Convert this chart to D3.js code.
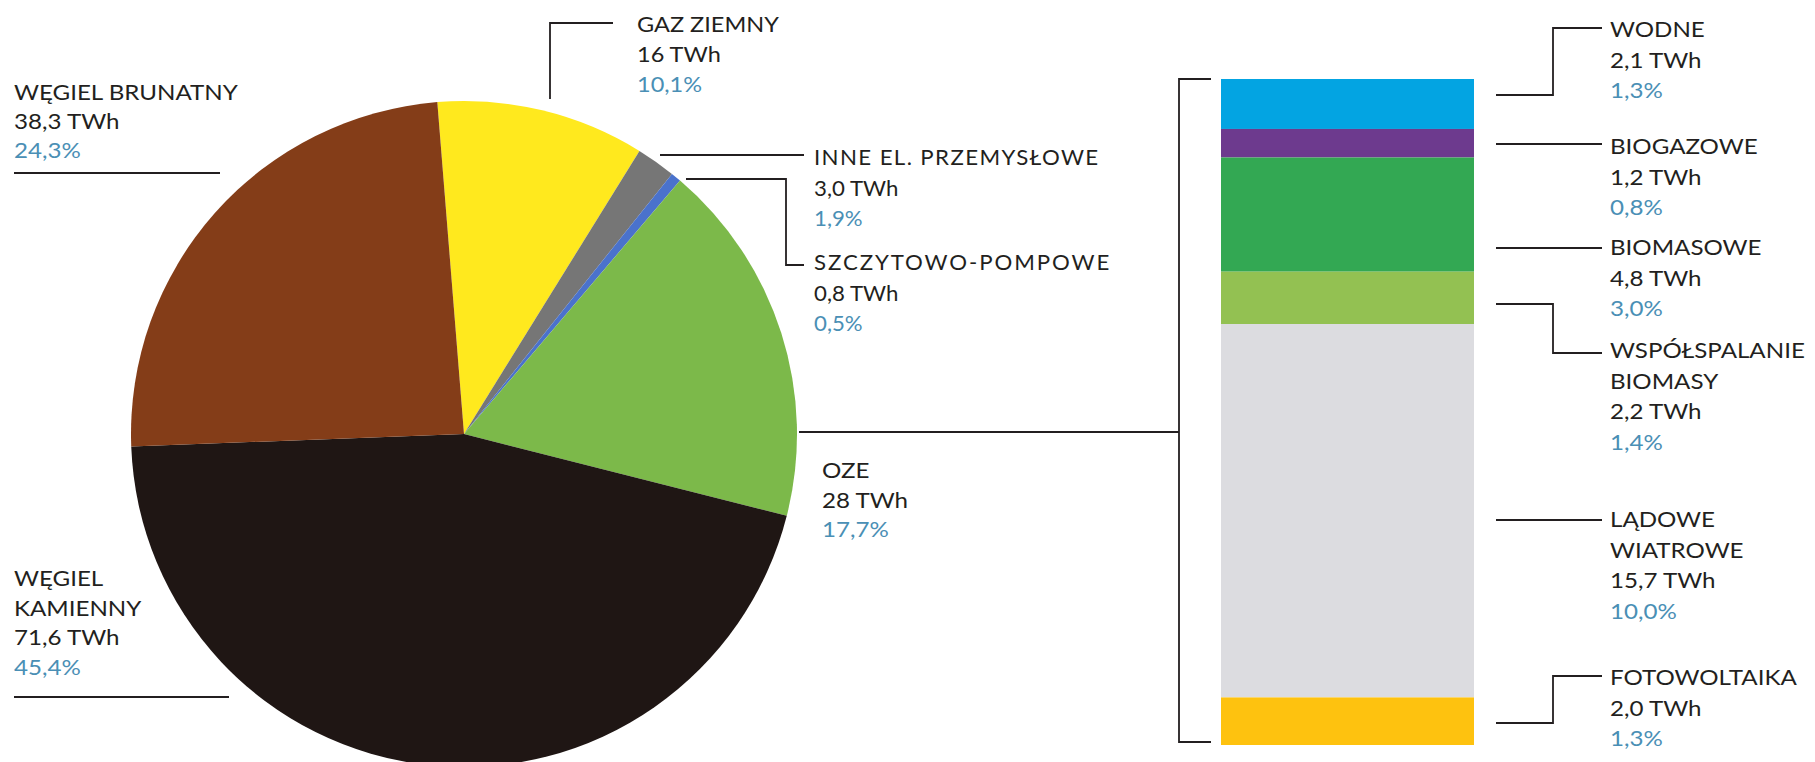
<!DOCTYPE html>
<html><head><meta charset="utf-8">
<script src="https://cdn.jsdelivr.net/npm/d3@7"></script>
<style>
html,body{margin:0;padding:0;background:#fff;}
svg{display:block;}
text{font-family:Lato,"Open Sans",sans-serif;font-size:21px;fill:#231f20;}
.pct{fill:#4a8fb5;}
</style></head>
<body>
<svg id="c" width="1815" height="762"></svg>
<script>
// ---- data ----
const pieCategories = ["GAZ ZIEMNY","INNE EL. PRZEMYSŁOWE","SZCZYTOWO-POMPOWE","OZE","WĘGIEL KAMIENNY","WĘGIEL BRUNATNY"];
const pieTWh = ["16 TWh","3,0 TWh","0,8 TWh","28 TWh","71,6 TWh","38,3 TWh"];
const pieShares = [10.1, 1.9, 0.5, 17.7, 45.4, 24.3];
const pieShareLabels = ["10,1%","1,9%","0,5%","17,7%","45,4%","24,3%"];
const pieColors = ["#ffe91e","#767676","#4a72cc","#7cb94a","#1f1614","#843d18"];

const ozeCategories = ["WODNE","BIOGAZOWE","BIOMASOWE","WSPÓŁSPALANIE BIOMASY","LĄDOWE WIATROWE","FOTOWOLTAIKA"];
const ozeValues = [2.1, 1.2, 4.8, 2.2, 15.7, 2.0];
const ozeTWhLabels = ["2,1 TWh","1,2 TWh","4,8 TWh","2,2 TWh","15,7 TWh","2,0 TWh"];
const ozeShareLabels = ["1,3%","0,8%","3,0%","1,4%","10,0%","1,3%"];
const ozeColors = ["#03a4e2","#6d3a8e","#33a853","#93c152","#dcdce0","#fec20f"];

// ---- layout ----
const svg = d3.select("#c");
const cx = 464, cy = 434, R = 333;
const startA = -4.6 * Math.PI/180;

const pie = d3.pie().sort(null).value(d=>d).startAngle(startA).endAngle(startA + 2*Math.PI);
const arc = d3.arc().innerRadius(0).outerRadius(R);
svg.append("g").attr("transform",`translate(${cx},${cy})`)
  .selectAll("path").data(pie(pieShares)).join("path")
  .attr("d",arc).attr("fill",(d,i)=>pieColors[i]);

// bar
const yS = d3.scaleLinear().domain([0, d3.sum(ozeValues)]).range([79, 745]);
const xL = 1221, xR = 1474;
let acc = 0;
const stack = ozeValues.map(v => { const s = {y0: acc, y1: acc + v}; acc += v; return s; });
svg.append("g").selectAll("rect").data(stack).join("rect")
  .attr("x", xL).attr("width", xR - xL)
  .attr("y", d => yS(d.y0)).attr("height", d => yS(d.y1) - yS(d.y0))
  .attr("fill", (d,i) => ozeColors[i]);

// leader lines
const line = d3.line();
const lines = [
  [[14,173],[220,173]],
  [[550,99],[550,23],[613,23]],
  [[660,155],[804,155]],
  [[686,179],[786,179],[786,265],[804,265]],
  [[799,432],[1179,432]],
  [[14,697],[229,697]],
  [[1211,79],[1179,79],[1179,742],[1211,742]],
  [[1496,95],[1553,95],[1553,28],[1602,28]],
  [[1496,144],[1602,144]],
  [[1496,248],[1602,248]],
  [[1496,304],[1553,304],[1553,353],[1602,353]],
  [[1496,520],[1602,520]],
  [[1496,723],[1553,723],[1553,676],[1602,676]]
];
svg.append("g").selectAll("path").data(lines).join("path")
  .attr("d", d => line(d)).attr("fill","none").attr("stroke","#231f20").attr("stroke-width",1.8);

// labels
function block(p, rows, step){
  const g = svg.append("g");
  rows.forEach((r,i)=>{
    g.append("text")
     .attr("transform",`translate(${p.x},${p.y+i*step}) scale(${p.sx},1)`)
     .attr("class", r.pct ? "pct" : null)
     .style("letter-spacing", (r.name && p.ls) ? p.ls+"px" : null)
     .text(r.t);
  });
}
function rowsFor(nameParts, twh, pct){
  return nameParts.map(t=>({t, name:true})).concat([{t:twh},{t:pct,pct:true}]);
}
// pie labels
const pieLabelPos = [
  {x:637, y:32, split:false, sx:1.12, ls:0, step:30},
  {x:814, y:165, split:false, sx:1.06, ls:1.3, step:30.5},
  {x:814, y:270, split:false, sx:1.06, ls:1.8, step:30.5},
  {x:822, y:478, split:false, sx:1.15, ls:0, step:29.5},
  {x:14, y:586, split:true, sx:1.15, ls:0, step:29.5},
  {x:14, y:100, split:false, sx:1.15, ls:0, step:29}
];
pieCategories.forEach((c,i)=>{
  const p = pieLabelPos[i];
  const parts = p.split ? c.split(" ") : [c];
  block(p, rowsFor(parts, pieTWh[i], pieShareLabels[i]), p.step);
});
// bar labels
const ozeLabelPos = [
  {x:1610, y:37, split:false},
  {x:1610, y:154, split:false},
  {x:1610, y:255, split:false},
  {x:1610, y:358, split:true},
  {x:1610, y:527, split:true},
  {x:1610, y:685, split:false}
];
ozeCategories.forEach((c,i)=>{
  const p = Object.assign({sx:1.15, ls:0}, ozeLabelPos[i]);
  const parts = p.split ? c.split(" ") : [c];
  block(p, rowsFor(parts, ozeTWhLabels[i], ozeShareLabels[i]), 30.5);
});
</script>
</body></html>
